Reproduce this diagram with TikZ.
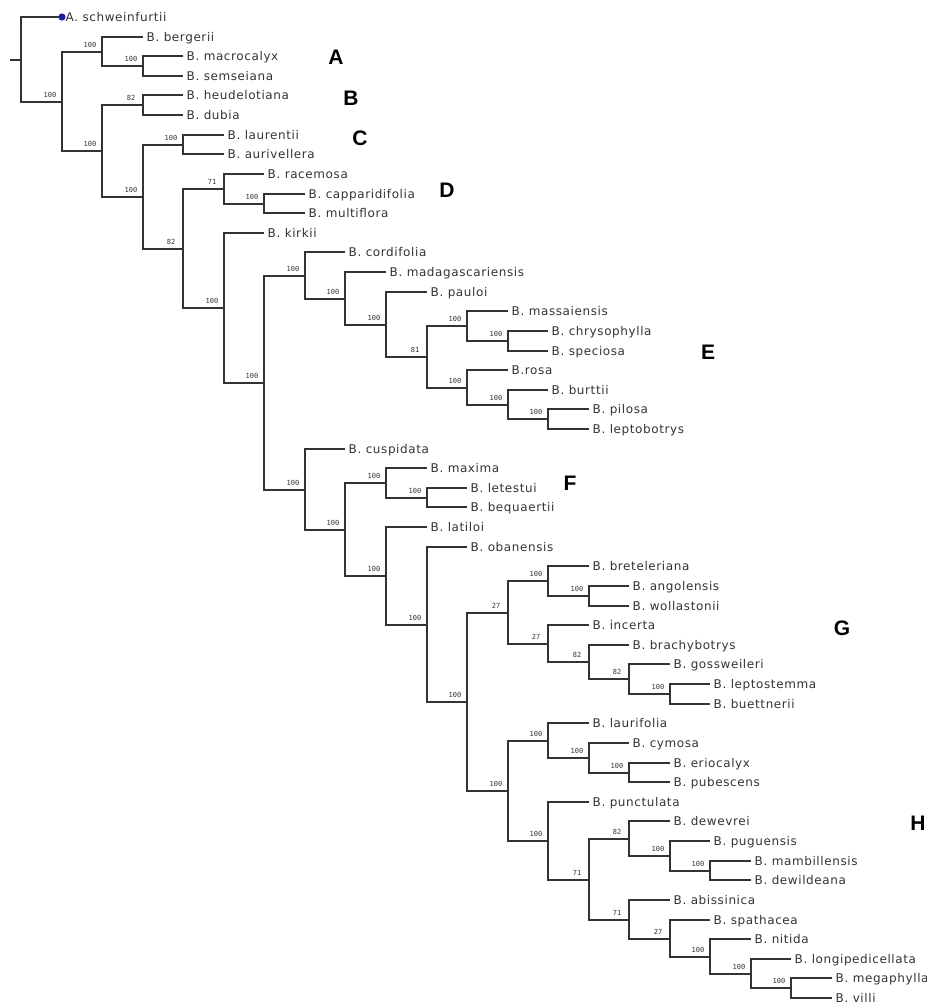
\documentclass[tikz,border=0pt]{standalone}
\usepackage{fontspec}
\setmainfont{Liberation Sans}
\newfontfamily\taxfont[LetterSpace=5]{DejaVu Sans}
\newfontfamily\supfont{DejaVu Sans Mono}
\usetikzlibrary{calc}
\definecolor{ln}{HTML}{333333}
\definecolor{dotblue}{RGB}{30,30,160}
\newcommand\leaf[4]{%
  \coordinate (#1) at ({round(21+40.55*#2)}, {-round(17+19.62*(#3-1))});
  \node[taxon] (#1t) at ([xshift=3.5pt,yshift=-4.5pt]#1) {#4};
}
\newcommand\inode[5]{%
  \path let \p1=(#3), \p2=(#4) in coordinate (#1) at ({round(21+40.55*#2)}, {round(0.5*\y1+0.5*\y2)});
  \draw[branch] (#3) -| (#1 |- #4) -- (#4);
  \node[support] (#1s) at ([xshift=-12pt,yshift=7pt]#1) {#5};
}
\begin{document}
\begin{tikzpicture}[x=1pt,y=1pt,
  branch/.style={draw=ln, line width=2pt},
  taxon/.style={anchor=base west, inner sep=0pt, font=\taxfont\fontsize{12}{14}\selectfont, text=ln},
  support/.style={inner sep=0pt, font=\supfont\fontsize{7}{8}\selectfont, text=ln},
  clade/.style={inner sep=0pt, font=\bfseries\fontsize{21}{24}\selectfont, text=black}]
\useasboundingbox (0,0) rectangle (927,-1005);
% leaves
\leaf{l1}{1}{1}{A. schweinfurtii}
\leaf{l2}{3}{2}{B. bergerii}
\leaf{l3}{4}{3}{B. macrocalyx}
\leaf{l4}{4}{4}{B. semseiana}
\leaf{l5}{4}{5}{B. heudelotiana}
\leaf{l6}{4}{6}{B. dubia}
\leaf{l7}{5}{7}{B. laurentii}
\leaf{l8}{5}{8}{B. aurivellera}
\leaf{l9}{6}{9}{B. racemosa}
\leaf{l10}{7}{10}{B. capparidifolia}
\leaf{l11}{7}{11}{B. multiflora}
\leaf{l12}{6}{12}{B. kirkii}
\leaf{l13}{8}{13}{B. cordifolia}
\leaf{l14}{9}{14}{B. madagascariensis}
\leaf{l15}{10}{15}{B. pauloi}
\leaf{l16}{12}{16}{B. massaiensis}
\leaf{l17}{13}{17}{B. chrysophylla}
\leaf{l18}{13}{18}{B. speciosa}
\leaf{l19}{12}{19}{B.rosa}
\leaf{l20}{13}{20}{B. burttii}
\leaf{l21}{14}{21}{B. pilosa}
\leaf{l22}{14}{22}{B. leptobotrys}
\leaf{l23}{8}{23}{B. cuspidata}
\leaf{l24}{10}{24}{B. maxima}
\leaf{l25}{11}{25}{B. letestui}
\leaf{l26}{11}{26}{B. bequaertii}
\leaf{l27}{10}{27}{B. latiloi}
\leaf{l28}{11}{28}{B. obanensis}
\leaf{l29}{14}{29}{B. breteleriana}
\leaf{l30}{15}{30}{B. angolensis}
\leaf{l31}{15}{31}{B. wollastonii}
\leaf{l32}{14}{32}{B. incerta}
\leaf{l33}{15}{33}{B. brachybotrys}
\leaf{l34}{16}{34}{B. gossweileri}
\leaf{l35}{17}{35}{B. leptostemma}
\leaf{l36}{17}{36}{B. buettnerii}
\leaf{l37}{14}{37}{B. laurifolia}
\leaf{l38}{15}{38}{B. cymosa}
\leaf{l39}{16}{39}{B. eriocalyx}
\leaf{l40}{16}{40}{B. pubescens}
\leaf{l41}{14}{41}{B. punctulata}
\leaf{l42}{16}{42}{B. dewevrei}
\leaf{l43}{17}{43}{B. puguensis}
\leaf{l44}{18}{44}{B. mambillensis}
\leaf{l45}{18}{45}{B. dewildeana}
\leaf{l46}{16}{46}{B. abissinica}
\leaf{l47}{17}{47}{B. spathacea}
\leaf{l48}{18}{48}{B. nitida}
\leaf{l49}{19}{49}{B. longipedicellata}
\leaf{l50}{20}{50}{B. megaphylla}
\leaf{l51}{20}{51}{B. villi}
% internal nodes
\inode{na2}{3}{l3}{l4}{100}
\inode{na}{2}{l2}{na2}{100}
\inode{nb}{3}{l5}{l6}{82}
\inode{nc}{4}{l7}{l8}{100}
\inode{nd2}{6}{l10}{l11}{100}
\inode{nd}{5}{l9}{nd2}{71}
\inode{ne6c}{13}{l21}{l22}{100}
\inode{ne6b}{12}{l20}{ne6c}{100}
\inode{ne6}{11}{l19}{ne6b}{100}
\inode{ne5b}{12}{l17}{l18}{100}
\inode{ne5}{11}{l16}{ne5b}{100}
\inode{ne4}{10}{ne5}{ne6}{81}
\inode{ne3}{9}{l15}{ne4}{100}
\inode{ne2}{8}{l14}{ne3}{100}
\inode{ne}{7}{l13}{ne2}{100}
\inode{nf3b}{10}{l25}{l26}{100}
\inode{nf3}{9}{l24}{nf3b}{100}
\inode{ng1b}{14}{l30}{l31}{100}
\inode{ng1}{13}{l29}{ng1b}{100}
\inode{ng5}{16}{l35}{l36}{100}
\inode{ng4}{15}{l34}{ng5}{82}
\inode{ng3}{14}{l33}{ng4}{82}
\inode{ng2}{13}{l32}{ng3}{27}
\inode{ng}{12}{ng1}{ng2}{27}
\inode{nh1c}{15}{l39}{l40}{100}
\inode{nh1b}{14}{l38}{nh1c}{100}
\inode{nh1}{13}{l37}{nh1b}{100}
\inode{nh4c}{17}{l44}{l45}{100}
\inode{nh4b}{16}{l43}{nh4c}{100}
\inode{nh4}{15}{l42}{nh4b}{82}
\inode{nh9}{19}{l50}{l51}{100}
\inode{nh8}{18}{l49}{nh9}{100}
\inode{nh7}{17}{l48}{nh8}{100}
\inode{nh6}{16}{l47}{nh7}{27}
\inode{nh5}{15}{l46}{nh6}{71}
\inode{nh3}{14}{nh4}{nh5}{71}
\inode{nh2}{13}{l41}{nh3}{100}
\inode{nh}{12}{nh1}{nh2}{100}
\inode{ng0}{11}{ng}{nh}{100}
\inode{nf5}{10}{l28}{ng0}{100}
\inode{nf4}{9}{l27}{nf5}{100}
\inode{nf2}{8}{nf3}{nf4}{100}
\inode{nf}{7}{l23}{nf2}{100}
\inode{n6}{6}{ne}{nf}{100}
\inode{n5}{5}{l12}{n6}{100}
\inode{n4}{4}{nd}{n5}{82}
\inode{n3}{3}{nc}{n4}{100}
\inode{n2}{2}{nb}{n3}{100}
\inode{n1}{1}{na}{n2}{100}
% root
\path let \p1=(l1), \p2=(n1) in coordinate (root) at (21, {round(0.5*\y1+0.5*\y2)});
\coordinate (stub) at ([xshift=-11pt]root);
\draw[branch] (l1) -| (root |- n1) -- (n1);
\draw[branch] (stub) -- (root);
\fill[dotblue] (l1) circle[radius=3.6pt];
% clade letters
\node[clade] (cA) at (336,-57) {A};
\node[clade] (cB) at (351,-98) {B};
\node[clade] (cC) at (360,-138) {C};
\node[clade] (cD) at (447,-190) {D};
\node[clade] (cE) at (708,-352) {E};
\node[clade] (cF) at (570,-483) {F};
\node[clade] (cG) at (842,-628) {G};
\node[clade] (cH) at (918,-823) {H};
\end{tikzpicture}
\end{document}
